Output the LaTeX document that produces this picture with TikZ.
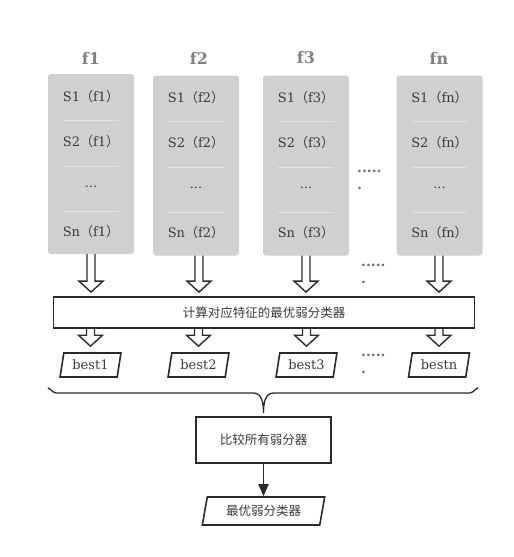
\documentclass[tikz,border=0pt]{standalone}
\usepackage{fontspec}
\setmainfont{DejaVu Serif}
\newfontfamily\cjk{Noto Sans CJK SC}
\usetikzlibrary{arrows.meta}
\usetikzlibrary{shapes.geometric}
\usetikzlibrary{calc}
\definecolor{boxgray}{HTML}{D0D0D0}
\definecolor{sepgray}{HTML}{E2E2E2}
\definecolor{txtgray}{HTML}{3A3A3A}
\definecolor{headgray}{HTML}{808080}
\definecolor{dotgray}{HTML}{6E6E6E}
\definecolor{linedark}{HTML}{2A2A2A}
\tikzset{
feat/.style={fill=boxgray, rounded corners=3pt, minimum width=86pt, minimum height=180pt, inner sep=0pt},
head/.style={text=headgray, font=\fontsize{16}{16}\selectfont\bfseries},
cell/.style={text=txtgray, font=\fontsize{13}{13}\selectfont, inner sep=0pt},
sep/.style={draw=sepgray, line width=0.8pt},
dots/.style={text=dotgray, font=\fontsize{14}{17}\selectfont\bfseries, align=left, anchor=north west, inner sep=0pt},
stepbox/.style={draw=linedark, line width=1.8pt, inner sep=0pt, text=txtgray, font=\cjk\fontsize{12.5}{12.5}\selectfont},
para/.style={draw=linedark, line width=1.6pt, trapezium, trapezium stretches=true, inner sep=0pt, text=txtgray},
fat/.style={draw=linedark, line width=1.4pt, line join=miter},
brace/.style={draw=linedark, line width=1.3pt}}
\newcommand{\sample}[2]{#1{\cjk （}#2{\cjk ）}}
\newcommand{\fatarrow}[3]{%
\draw[fat] let \p1=(#1), \p2=(#2) in
(\x1-4pt,\y1) -- (\x1-4pt,\y2+#3) -- (\x1-12pt,\y2+#3) -- (\x1,\y2)
-- (\x1+12pt,\y2+#3) -- (\x1+4pt,\y2+#3) -- (\x1+4pt,\y1);}

\begin{document}
\begin{tikzpicture}[x=1pt, y=-1pt]
            \useasboundingbox (0,0) rectangle (514,557);

                \node[head] (T1) at (91,58) {f1};
                \node[head] (T2) at (199,58) {f2};
                \node[head] (T3) at (306,58) {f3};
                \node[head] (Tn) at (439,58) {fn};

                \node[feat] (F1) at (91,164) {};
                \node[feat] (F2) at (196,165.5) {};
                \node[feat] (F3) at (306,165.5) {};
                \node[feat] (Fn) at (439.5,165.5) {};

                \draw[sep] (64,120) -- (119,120) (64,166) -- (119,166) (64,211) -- (119,211);
                \draw[sep] (168,121) -- (224,121) (168,167) -- (224,167) (168,212) -- (224,212);
                \draw[sep] (278,121) -- (334,121) (278,167) -- (334,167) (278,212) -- (334,212);
                \draw[sep] (412,121) -- (467,121) (412,167) -- (467,167) (412,212) -- (467,212);

                \node[cell] (F1s1) at (91,97) {\sample{S1}{f1}};
                \node[cell] (F1s2) at (91,142) {\sample{S2}{f1}};
                \node[cell] (F1d) at (91,187) {...};
                \node[cell] (F1sn) at (91,232) {\sample{Sn}{f1}};
                \node[cell] (F2s1) at (196,98) {\sample{S1}{f2}};
                \node[cell] (F2s2) at (196,143) {\sample{S2}{f2}};
                \node[cell] (F2d) at (196,188) {...};
                \node[cell] (F2sn) at (196,233) {\sample{Sn}{f2}};
                \node[cell] (F3s1) at (306,98) {\sample{S1}{f3}};
                \node[cell] (F3s2) at (306,143) {\sample{S2}{f3}};
                \node[cell] (F3d) at (306,188) {...};
                \node[cell] (F3sn) at (306,233) {\sample{Sn}{f3}};
                \node[cell] (Fns1) at (439.5,98) {\sample{S1}{fn}};
                \node[cell] (Fns2) at (439.5,143) {\sample{S2}{fn}};
                \node[cell] (Fnd) at (439.5,188) {...};
                \node[cell] (Fnsn) at (439.5,233) {\sample{Sn}{fn}};

                \node[dots] (D1) at (357,170) {.....\\.};
                \node[dots] (D2) at (361,264) {.....\\.};
                \node[dots] (D3) at (361,354) {.....\\.};

                \node[stepbox, minimum width=421pt, minimum height=31pt] (Calc) at (264,312.5) {计算对应特征的最优弱分类器};

                \node[para, trapezium left angle=76, trapezium right angle=104, minimum width=61pt, minimum height=24pt, font=\fontsize{13}{13}\selectfont] (B1) at (90.5,365) {best1};
                \node[para, trapezium left angle=76, trapezium right angle=104, minimum width=61pt, minimum height=24pt, font=\fontsize{13}{13}\selectfont] (B2) at (198.5,365) {best2};
                \node[para, trapezium left angle=76, trapezium right angle=104, minimum width=61pt, minimum height=24pt, font=\fontsize{13}{13}\selectfont] (B3) at (306.5,365) {best3};
                \node[para, trapezium left angle=76, trapezium right angle=104, minimum width=61pt, minimum height=24pt, font=\fontsize{13}{13}\selectfont] (Bn) at (439,365) {bestn};

                \fatarrow{F1.south}{$(F1.south |- Calc.north)+(0,-4)$}{11pt}
                \fatarrow{[xshift=3pt]F2.south}{$([xshift=3pt]F2.south |- Calc.north)+(0,-4)$}{11pt}
                \fatarrow{F3.south}{$(F3.south |- Calc.north)+(0,-4)$}{11pt}
                \fatarrow{[xshift=-0.5pt]Fn.south}{$([xshift=-0.5pt]Fn.south |- Calc.north)+(0,-4)$}{11pt}

                \fatarrow{B1.north |- Calc.south}{$(B1.north)+(0,-6)$}{11pt}
                \fatarrow{B2.north |- Calc.south}{$(B2.north)+(0,-6)$}{11pt}
                \fatarrow{B3.north |- Calc.south}{$(B3.north)+(0,-6)$}{11pt}
                \fatarrow{Bn.north |- Calc.south}{$(Bn.north)+(0,-6)$}{11pt}

                \coordinate (BL) at (48,389);
                \coordinate (BR) at (478,389);
                \coordinate (BT) at (263.5,413);
                \draw[brace] (BL) to[out=90,in=180] ++(8,4) -- ($(BT)+(-10,-20)$) to[out=0,in=90] (BT)
                    to[out=90,in=180] ($(BT)+(10,-20)$) -- ($(BR)+(-8,4)$) to[out=0,in=90] (BR);

                \node[stepbox, minimum width=135pt, minimum height=46pt] (Cmp) at (263.5,440) {比较所有弱分器};
                \node[para, trapezium left angle=74, trapezium right angle=106, minimum width=123pt, minimum height=28pt, font=\cjk\fontsize{12.5}{12.5}\selectfont] (Res) at (263.5,511) {最优弱分类器};

                \draw[-{Triangle[length=12pt,width=10pt]}, line width=1.8pt, linedark] (Cmp) -- (Res);

            \end{tikzpicture}
\end{document}
